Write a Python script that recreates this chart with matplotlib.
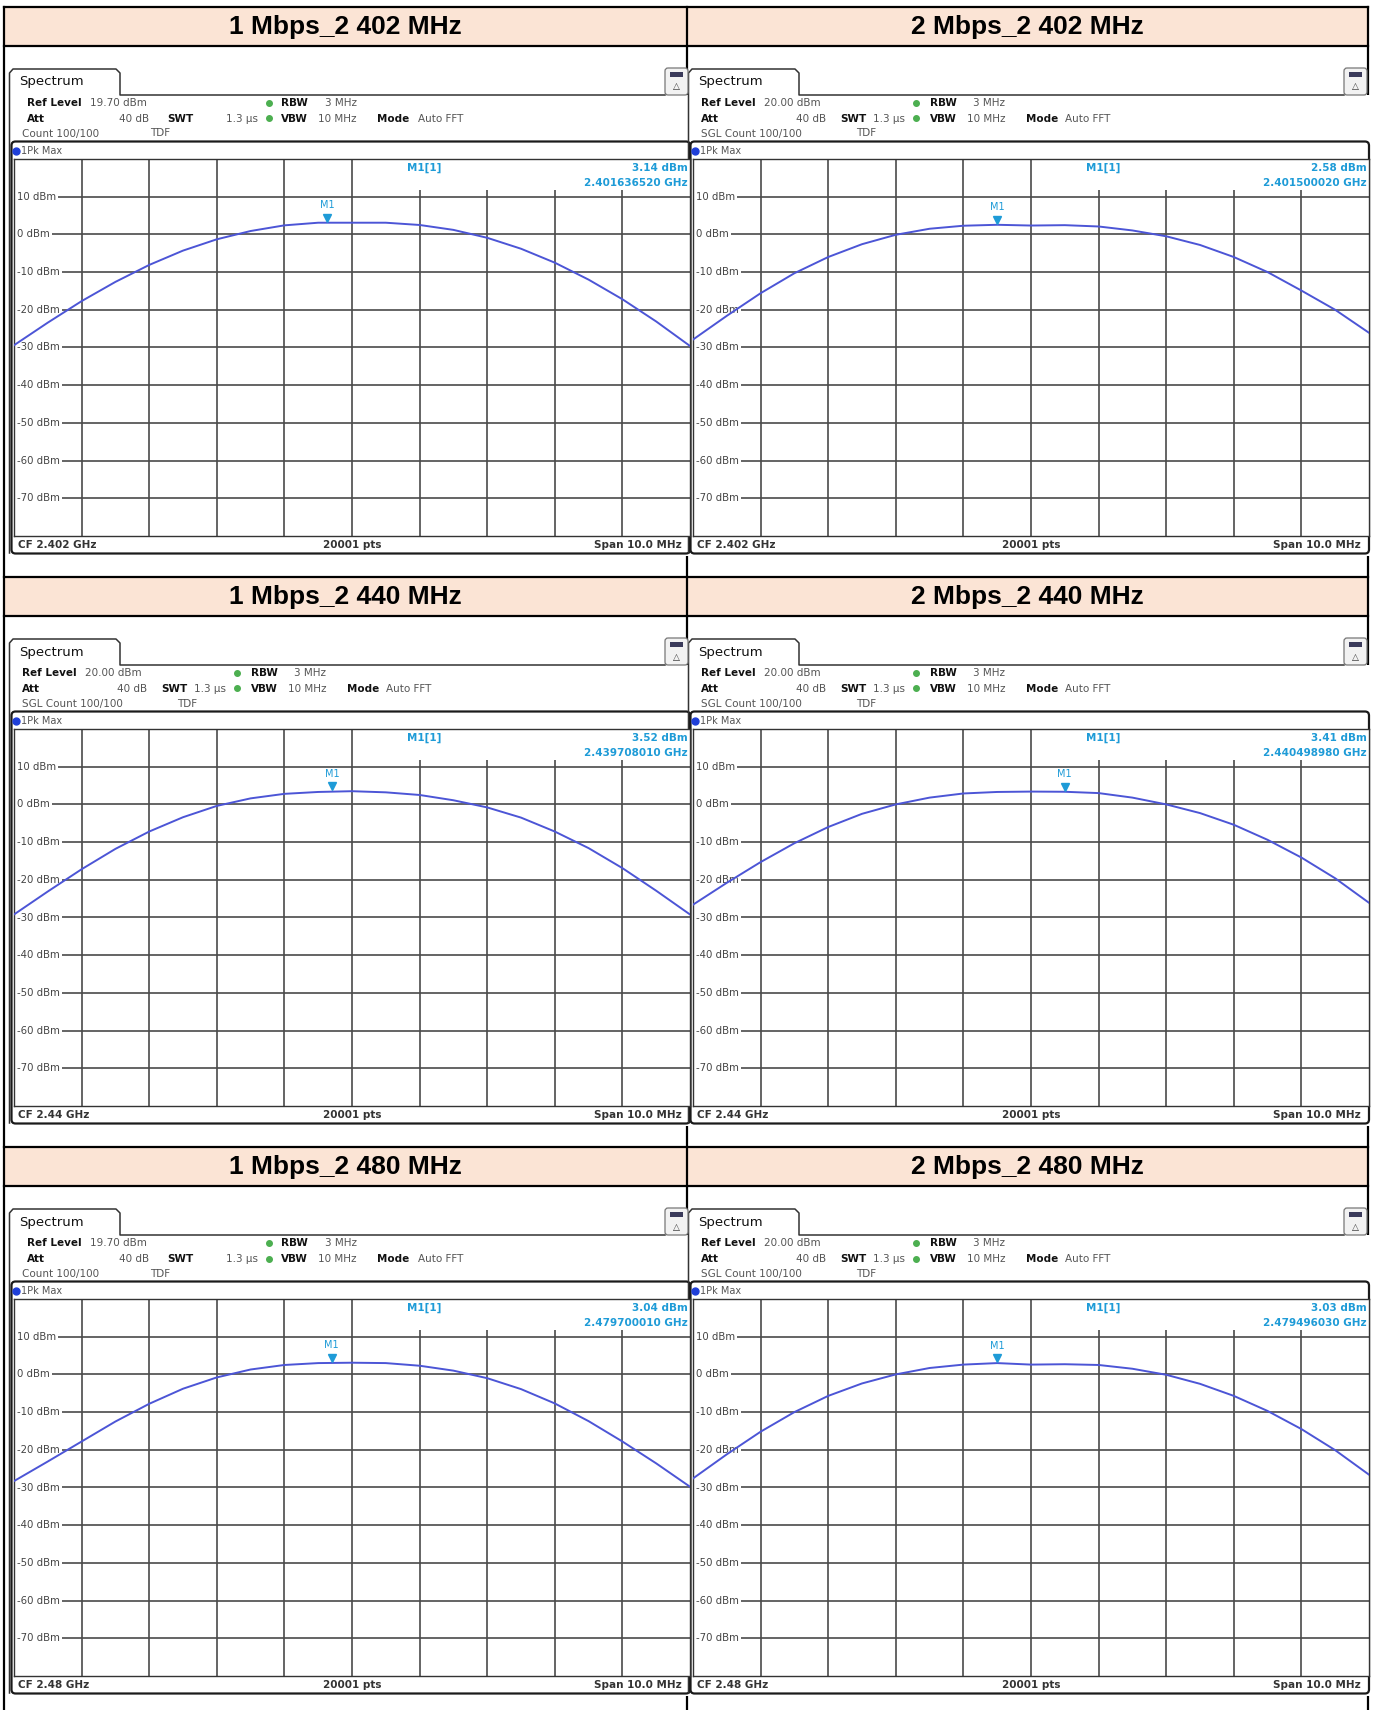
import matplotlib
matplotlib.use('Agg')
import matplotlib.pyplot as plt
from matplotlib.patches import Rectangle, FancyBboxPatch
import matplotlib.transforms as mtrans

W, H = 1375, 1710

titles = ['1 Mbps_2 402 MHz', '2 Mbps_2 402 MHz',
          '1 Mbps_2 440 MHz', '2 Mbps_2 440 MHz',
          '1 Mbps_2 480 MHz', '2 Mbps_2 480 MHz']
ref_levels = ['19.70', '20.00', '20.00', '20.00', '19.70', '20.00']
count_labels = ['Count 100/100', 'SGL Count 100/100', 'SGL Count 100/100',
                'SGL Count 100/100', 'Count 100/100', 'SGL Count 100/100']
cf_labels = ['CF 2.402 GHz', 'CF 2.402 GHz', 'CF 2.44 GHz',
             'CF 2.44 GHz', 'CF 2.48 GHz', 'CF 2.48 GHz']
cf_ghz = [2.402, 2.402, 2.44, 2.44, 2.48, 2.48]
m1_ghz = [2.401636520, 2.401500020, 2.439708010, 2.440498980, 2.479700010, 2.479496030]
m1_dbm = [3.14, 2.58, 3.52, 3.41, 3.04, 3.03]

# trace read every half division, offset from CF in MHz
offset_mhz = [-5.0, -4.5, -4.0, -3.5, -3.0, -2.5, -2.0, -1.5, -1.0, -0.5, 0.0,
              0.5, 1.0, 1.5, 2.0, 2.5, 3.0, 3.5, 4.0, 4.5, 5.0]
trace_1m_2402 = [-29.4, -23.4, -17.7, -12.6, -8.1, -4.3, -1.3, 0.9, 2.4, 3.1, 3.1,
                 3.1, 2.5, 1.2, -0.9, -3.8, -7.5, -12.0, -17.2, -23.1, -29.6]
trace_2m_2402 = [-27.9, -21.6, -15.6, -10.3, -6.0, -2.6, -0.1, 1.5, 2.3, 2.55, 2.35,
                 2.45, 2.1, 1.05, -0.5, -2.8, -6.0, -10.0, -14.9, -20.0, -26.1]
trace_1m_2440 = [-29.2, -23.1, -17.2, -11.8, -7.2, -3.4, -0.4, 1.6, 2.8, 3.3, 3.5,
                 3.2, 2.5, 1.1, -0.8, -3.5, -7.2, -11.6, -16.9, -22.9, -29.2]
trace_2m_2440 = [-26.6, -20.8, -15.3, -10.3, -6.0, -2.5, 0.0, 1.8, 2.9, 3.3, 3.4,
                 3.35, 3.0, 1.8, 0.0, -2.3, -5.4, -9.4, -14.1, -19.6, -26.1]
trace_1m_2480 = [-28.3, -23.1, -17.8, -12.5, -7.8, -3.8, -0.8, 1.3, 2.5, 3.0, 3.1,
                 3.0, 2.3, 1.0, -1.0, -3.9, -7.7, -12.4, -17.8, -23.6, -29.8]
trace_2m_2480 = [-27.6, -21.2, -15.2, -10.0, -5.7, -2.4, 0.0, 1.7, 2.6, 3.0, 2.6,
                 2.7, 2.5, 1.5, -0.1, -2.5, -5.7, -9.7, -14.5, -20.1, -26.6]
traces = [trace_1m_2402, trace_2m_2402, trace_1m_2440,
          trace_2m_2440, trace_1m_2480, trace_2m_2480]

grid_dbm = [10, 0, -10, -20, -30, -40, -50, -60, -70]
grid_mhz = [-4, -3, -2, -1, 0, 1, 2, 3, 4]

PEACH = '#FBE4D5'
TRACE = '#4C55D6'
MARK = '#1E9BD7'
GRID = '#4a4a4a'

fig = plt.figure(figsize=(W / 100, H / 100), dpi=100)
bg = fig.add_axes([0, 0, 1, 1])
bg.set_xlim(0, W)
bg.set_ylim(H, 0)
bg.axis('off')

# table
for y in [7, 577, 1147]:
    bg.add_patch(Rectangle((4, y), 1364, 39, facecolor=PEACH, edgecolor='none', zorder=0))
for y in [7, 46, 577, 616, 1147, 1186]:
    bg.plot([4, 1368], [y, y], color='black', lw=1.6, zorder=1)
for x in [4, 687, 1368]:
    bg.plot([x, x], [7, H], color='black', lw=1.6, zorder=1)
for i, t in enumerate(titles):
    cx = 345.5 if i % 2 == 0 else 1027.5
    cy = [7, 577, 1147][i // 2] + 20
    bg.text(cx, cy, t, ha='center', va='center', fontsize=19, fontweight='bold',
            family='Liberation Sans', zorder=2)

layout_a = dict(ref=27, refv=90, dot=269, rbw=281, rbwv=325, att=27, attv=149,
                swt=167, swtv=226, vbw=281, vbwv=318, mode=377, modev=418, cnt=22, tdf=150)
layout_b = dict(ref=22, refv=85, dot=237, rbw=251, rbwv=294, att=22, attv=147,
                swt=161, swtv=194, vbw=251, vbwv=288, mode=347, modev=386, cnt=22, tdf=177)

def txt(x, y, s, bold=False, ha='left', size=7.5, color=None):
    c = color or ('#111111' if bold else '#555555')
    bg.text(x, y, s, ha=ha, va='center', fontsize=size, color=c,
            fontweight='bold' if bold else 'normal', zorder=6)

for i in range(6):
    ox = 0 if i % 2 == 0 else 679
    oy = 570 * (i // 2)
    # white screen area hides the table divider
    bg.add_patch(Rectangle((ox + 8, oy + 95), 684, 461, facecolor='white', edgecolor='none', zorder=3))
    # tab + frame top line
    bg.plot([ox + 9.5, ox + 9.5, ox + 13, ox + 116, ox + 120, ox + 120, ox + 665],
            [oy + 553, oy + 73, oy + 69, oy + 69, oy + 73, oy + 95, oy + 95],
            color='#333333', lw=1.1, zorder=4)
    bg.text(ox + 19, oy + 82, 'Spectrum', fontsize=9.5, va='center', color='#111111', zorder=6)
    # small icon at top right
    bg.add_patch(FancyBboxPatch((ox + 665, oy + 68), 23, 27, boxstyle='round,pad=0,rounding_size=3',
                                facecolor='#f2f2f2', edgecolor='#777777', lw=0.9, zorder=5))
    bg.add_patch(Rectangle((ox + 670, oy + 72), 13, 5, facecolor='#3a3a5a', edgecolor='none', zorder=6))
    bg.text(ox + 676.5, oy + 87, '△', fontsize=6.5, ha='center', va='center', color='#333333', zorder=6)
    # trace box
    bg.add_patch(FancyBboxPatch((ox + 11.5, oy + 141.5), 678.5, 412, boxstyle='round,pad=0,rounding_size=4',
                                facecolor='white', edgecolor='#1a1a1a', lw=1.6, zorder=4))
    bg.plot([ox + 16.5], [oy + 151], 'o', color='#1f3fd8', ms=5, zorder=6)
    txt(ox + 21, oy + 151, '1Pk Max', size=7)
    # info lines
    L = layout_a if not count_labels[i].startswith('SGL') else layout_b
    y1, y2, y3 = oy + 103, oy + 118.5, oy + 133.5
    txt(ox + L['ref'], y1, 'Ref Level', bold=True)
    txt(ox + L['refv'], y1, ref_levels[i] + ' dBm')
    bg.plot([ox + L['dot']], [y1], 'o', color='#4caf50', ms=4, zorder=6)
    txt(ox + L['rbw'], y1, 'RBW', bold=True)
    txt(ox + L['rbwv'], y1, '3 MHz')
    txt(ox + L['att'], y2, 'Att', bold=True)
    txt(ox + L['attv'], y2, '40 dB', ha='right')
    txt(ox + L['swt'], y2, 'SWT', bold=True)
    txt(ox + L['swtv'], y2, '1.3 µs')
    bg.plot([ox + L['dot']], [y2], 'o', color='#4caf50', ms=4, zorder=6)
    txt(ox + L['vbw'], y2, 'VBW', bold=True)
    txt(ox + L['vbwv'], y2, '10 MHz')
    txt(ox + L['mode'], y2, 'Mode', bold=True)
    txt(ox + L['modev'], y2, 'Auto FFT')
    txt(ox + L['cnt'], y3, count_labels[i])
    txt(ox + L['tdf'], y3, 'TDF')
    # bottom bar
    txt(ox + 18, oy + 545, cf_labels[i], bold=True, color='#333333')
    txt(ox + 352, oy + 545, '20001 pts', bold=True, ha='center', color='#333333')
    txt(ox + 682, oy + 545, 'Span 10.0 MHz', bold=True, ha='right', color='#333333')

    # plot area
    x0, y0, x1, y1p = ox + 14, oy + 159, ox + 690, oy + 536
    ax = fig.add_axes([x0 / W, 1 - y1p / H, (x1 - x0) / W, (y1p - y0) / H])
    ax.set_zorder(10)
    ax.set_xlim(-5, 5)
    ax.set_ylim(-80, 20)
    ax.set_xticks([])
    ax.set_yticks([])
    for s in ax.spines.values():
        s.set_color('#333333')
        s.set_linewidth(1.0)
    for v in grid_dbm:
        ax.axhline(v, color=GRID, lw=1.2, zorder=1)
    for f in grid_mhz:
        ax.axvline(f, color=GRID, lw=1.2, zorder=1)
    ax.add_patch(Rectangle((0.578, 0.918), 0.422, 0.082, transform=ax.transAxes,
                           facecolor='white', edgecolor='none', zorder=1.5))
    tr = mtrans.blended_transform_factory(ax.transAxes, ax.transData)
    for v in grid_dbm:
        ax.text(0.0045, v, f'{v} dBm', transform=tr, ha='left', va='center', fontsize=7.3,
                color='#444444', zorder=2,
                bbox=dict(facecolor='white', edgecolor='none', pad=1.6))
    ax.plot(offset_mhz, traces[i], color=TRACE, lw=1.4, zorder=3)
    mx = (m1_ghz[i] - cf_ghz[i]) * 1000
    ax.plot([mx], [m1_dbm[i] + 1.3], marker='v', ms=5.5, color=MARK, ls='none', zorder=4)
    ax.text(mx, m1_dbm[i] + 3.3, 'M1', ha='center', va='bottom', fontsize=7, color=MARK, zorder=4)
    ax.text(0.581, 0.976, 'M1[1]', transform=ax.transAxes, ha='left', va='center',
            fontsize=7.5, color=MARK, fontweight='bold', zorder=5)
    ax.text(0.997, 0.976, f'{m1_dbm[i]:.2f} dBm', transform=ax.transAxes, ha='right', va='center',
            fontsize=7.5, color=MARK, fontweight='bold', zorder=5)
    ax.text(0.997, 0.936, f'{m1_ghz[i]:.9f} GHz', transform=ax.transAxes, ha='right', va='center',
            fontsize=7.5, color=MARK, fontweight='bold', zorder=5)

fig.savefig('out.png', dpi=100)
